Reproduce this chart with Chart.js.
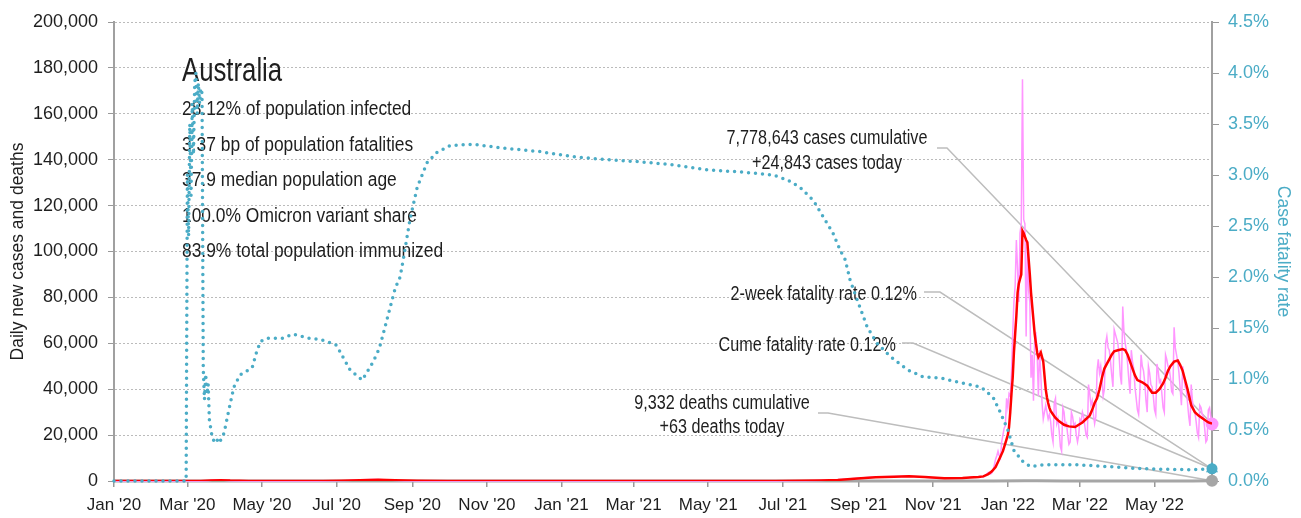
<!DOCTYPE html>
<html>
<head>
<meta charset="utf-8">
<script src="https://cdn.jsdelivr.net/npm/chart.js@4/dist/chart.umd.min.js"></script>
<style>
  html, body { margin: 0; padding: 0; background: #fff; }
  #wrap { width: 1301px; height: 518px; }
</style>
</head>
<body>
<div id="wrap"><canvas id="chart" width="1301" height="518"></canvas></div>
<script>
// ---- data ----
const country = 'Australia';
const statLines = [
  '28.12% of population infected',
  '3.37 bp of population fatalities',
  '37.9 median population age',
  '100.0% Omicron variant share',
  '83.9% total population immunized'
];
const casesCumulative = 7778643;
const deathsCumulative = 9332;
const cfrTwoWeek = 0.12;

const tickMonths = ['2020-01-01', '2020-03-01', '2020-05-01', '2020-07-01', '2020-09-01', '2020-11-01',
  '2021-01-01', '2021-03-01', '2021-05-01', '2021-07-01', '2021-09-01', '2021-11-01',
  '2022-01-01', '2022-03-01', '2022-05-01'];
const lastDate = '2022-06-17';

// daily new cases, before the Omicron wave
const casesEarlyDates = ['2020-01-01', '2020-02-29', '2020-03-10', '2020-03-18', '2020-03-23', '2020-03-28',
  '2020-04-05', '2020-04-15', '2020-05-15', '2020-06-15', '2020-06-30', '2020-07-10', '2020-07-22',
  '2020-07-30', '2020-08-05', '2020-08-15', '2020-08-25', '2020-09-10', '2020-09-30', '2020-10-31',
  '2021-01-01', '2021-02-01', '2021-05-01', '2021-06-25', '2021-07-10', '2021-07-20', '2021-08-01',
  '2021-08-10', '2021-08-20', '2021-08-31', '2021-09-10', '2021-09-20', '2021-09-30', '2021-10-10',
  '2021-10-20', '2021-10-31', '2021-11-10', '2021-11-20', '2021-11-30'];
const casesEarly = [0, 3, 20, 150, 400, 460, 100, 30, 15, 20, 70, 200, 500, 700, 690, 350, 150, 50, 15, 10,
  30, 10, 15, 25, 60, 140, 250, 400, 800, 1200, 1600, 1800, 2000, 2100, 1800, 1400, 1200, 1250, 1400];

// daily new cases, one value per day from this date on
const casesDailyFrom = '2021-12-01';
const casesDaily = [
  1650, 1700, 1800, 1750, 1600, 1500, 1800, 1900, 2000, 1950,
  1900, 1800, 2100, 2700, 3100, 3800, 3600, 3100, 3600, 4700,
  7000, 9500, 11000, 13000, 11000, 10000, 17000, 20000, 23000, 24000, 36000,
  32000, 38000, 37000, 47000, 64000, 78000, 85000, 105000, 92000, 78000,
  108000, 112000, 175000, 114000, 112000, 63000, 102000, 83000, 78000, 45000,
  55000, 35000, 63000, 64000, 55000, 37000, 57000, 46000, 34000, 27000, 30000,
  33000, 30000, 27000, 29000, 26000, 20000, 17000, 34000, 36000, 25000, 27000, 22000, 15000, 13000,
  32000, 30000, 24000, 25000, 20000, 16000, 17000, 30000, 28000, 24000, 25000, 20000, 17000, 20000,
  27000, 26000, 30000, 28000, 24000, 20000, 19000, 42000, 38000, 33000, 35000, 29000, 25000, 28000,
  48000, 53000, 47000, 50000, 44000, 37000, 40000, 60000, 63000, 58000, 57000, 52000, 46000, 41000,
  66000, 64000, 62000,
  60000, 55000, 46000, 42000, 76000, 65000, 60000, 57000, 51000, 44000,
  38000, 57000, 52000, 49000, 41000, 36000, 31000, 29000, 39000, 55000,
  50000, 48000, 43000, 35000, 30000, 50000, 47000, 42000, 41000, 37000,
  31000, 29000, 51000, 48000, 43000, 44000, 38000, 32000, 30000, 55000,
  53000, 50000, 49000, 45000, 39000, 38000, 67000, 58000, 55000, 52000,
  47000, 40000, 33000, 50000, 46000, 41000, 40000, 34000, 28000, 24000, 42000,
  35000, 31000, 30000, 26000, 21000, 19000, 33000, 32000, 29000, 28000,
  23000, 17000, 18000, 31000, 32000, 28000, 24843
];

// 7-day average of new cases
const avgDates = ['2020-01-01', '2020-02-29', '2020-03-12', '2020-03-20', '2020-03-28', '2020-04-05',
  '2020-04-20', '2020-05-20', '2020-06-20', '2020-07-05', '2020-07-20', '2020-08-04', '2020-08-18',
  '2020-09-05', '2020-09-30', '2020-12-31', '2021-06-25', '2021-07-15', '2021-08-01', '2021-08-15',
  '2021-08-31', '2021-09-15', '2021-09-30', '2021-10-12', '2021-10-25', '2021-11-10', '2021-11-25',
  '2021-12-01', '2021-12-08', '2021-12-12', '2021-12-16', '2021-12-19', '2021-12-22', '2021-12-25',
  '2021-12-28', '2021-12-29', '2022-01-01', '2022-01-02', '2022-01-03', '2022-01-04', '2022-01-05',
  '2022-01-06', '2022-01-07', '2022-01-08', '2022-01-09', '2022-01-10', '2022-01-11', '2022-01-12',
  '2022-01-13', '2022-01-14', '2022-01-15', '2022-01-16', '2022-01-17', '2022-01-18', '2022-01-19',
  '2022-01-20', '2022-01-21', '2022-01-22', '2022-01-23', '2022-01-24', '2022-01-25', '2022-01-26',
  '2022-01-27', '2022-01-28', '2022-01-29', '2022-01-30', '2022-01-31', '2022-02-01', '2022-02-02',
  '2022-02-03', '2022-02-04', '2022-02-05', '2022-02-07', '2022-02-09', '2022-02-12', '2022-02-16',
  '2022-02-20', '2022-02-25', '2022-02-28', '2022-03-03', '2022-03-06', '2022-03-09', '2022-03-11',
  '2022-03-13', '2022-03-15', '2022-03-17', '2022-03-19', '2022-03-21', '2022-03-23', '2022-03-25',
  '2022-03-27', '2022-03-29', '2022-04-01', '2022-04-05', '2022-04-07', '2022-04-09', '2022-04-11',
  '2022-04-13', '2022-04-15', '2022-04-17', '2022-04-21', '2022-04-25', '2022-04-29', '2022-05-02',
  '2022-05-05', '2022-05-08', '2022-05-10', '2022-05-12', '2022-05-14', '2022-05-17', '2022-05-20',
  '2022-05-22', '2022-05-24', '2022-05-26', '2022-05-28', '2022-05-31', '2022-06-03', '2022-06-06',
  '2022-06-10', '2022-06-14', '2022-06-17'];
const avgValues = [0, 2, 30, 250, 380, 200, 40, 15, 18, 120, 380, 520, 300, 90, 15, 15, 20, 90, 220, 450,
  1100, 1600, 1900, 2100, 1700, 1250, 1300,
  1500, 1700, 2000, 3000, 4200, 6100, 9500, 13000, 14800, 20000, 23500, 30000, 38000, 45000,
  56000, 64000, 72000, 82000, 86000, 88000, 90000, 109000, 108000, 106500, 105000, 104000, 97000, 90000,
  82000, 76000, 70000, 64000, 60000, 56000, 54000, 55000, 56000, 54000, 52000, 46000, 40000, 36500,
  34000, 32000, 30500, 29000, 27500, 26000, 24500, 23800, 23500, 24500, 25500, 27000, 28500, 31000,
  34000, 36000, 40000, 45000, 49000, 51000, 53000, 55000, 56500, 57000, 57500, 57000, 55000, 52000,
  49000, 46000, 44000, 43000, 41500, 38500, 38500, 40000, 42500, 45000, 48000, 50000, 52000, 52500,
  50500, 48000, 44000, 40000, 33000, 30000, 28500, 27000, 25500, 25000];

// daily deaths
const deathDates = ['2020-01-01', '2020-03-28', '2020-04-10', '2020-06-01', '2020-07-25', '2020-08-10',
  '2020-08-25', '2020-09-20', '2020-10-20', '2021-08-01', '2021-09-01', '2021-10-10', '2021-11-15',
  '2021-12-20', '2022-01-15', '2022-01-25', '2022-02-15', '2022-03-15', '2022-04-15', '2022-05-15',
  '2022-06-01', '2022-06-17'];
const deathValues = [0, 2, 4, 0, 10, 18, 14, 4, 1, 1, 9, 12, 6, 3, 60, 80, 45, 20, 25, 40, 50, 63];

// cumulative case fatality rate, percent
const cfrDates = ['2020-01-01', '2020-02-29', '2020-03-01', '2020-03-02', '2020-03-03', '2020-03-04',
  '2020-03-05', '2020-03-06', '2020-03-07', '2020-03-08', '2020-03-09', '2020-03-10', '2020-03-11',
  '2020-03-12', '2020-03-13', '2020-03-14', '2020-03-15', '2020-03-16', '2020-03-17', '2020-03-18',
  '2020-03-19', '2020-03-21', '2020-03-23', '2020-03-25', '2020-03-27', '2020-03-31', '2020-04-04',
  '2020-04-08', '2020-04-13', '2020-04-23', '2020-04-27', '2020-04-30', '2020-05-05', '2020-05-18',
  '2020-05-26', '2020-06-08', '2020-06-17', '2020-06-25', '2020-07-01', '2020-07-06', '2020-07-12',
  '2020-07-18', '2020-07-22', '2020-07-26', '2020-07-31', '2020-08-05', '2020-08-09', '2020-08-14',
  '2020-08-18', '2020-08-22', '2020-08-25', '2020-08-30', '2020-09-05', '2020-09-13', '2020-09-21',
  '2020-10-02', '2020-10-21', '2020-11-17', '2020-12-14', '2021-01-10', '2021-02-07', '2021-03-06',
  '2021-04-02', '2021-04-30', '2021-05-27', '2021-06-23', '2021-07-05', '2021-07-15', '2021-07-26',
  '2021-08-03', '2021-08-11', '2021-08-17', '2021-08-21', '2021-08-25', '2021-08-31', '2021-09-08',
  '2021-09-16', '2021-09-27', '2021-10-11', '2021-10-24', '2021-11-07', '2021-11-21', '2021-12-10',
  '2021-12-20', '2021-12-26', '2022-01-01', '2022-01-06', '2022-01-14', '2022-01-20', '2022-01-30',
  '2022-02-26', '2022-03-25', '2022-04-21', '2022-06-01', '2022-06-17'];
const cfrValues = [0, 0, 3.0, 2.4, 3.5, 2.8, 3.7, 3.2, 3.9, 4.0, 3.6, 3.9, 3.7, 3.85, 3.8, 1.1, 0.8, 1.05,
  0.85, 0.95, 0.6, 0.45, 0.38, 0.41, 0.37, 0.47, 0.70, 0.92, 1.04, 1.11, 1.28, 1.37, 1.40, 1.40, 1.44,
  1.40, 1.39, 1.36, 1.33, 1.22, 1.09, 1.03, 0.99, 1.07, 1.17, 1.30, 1.48, 1.71, 1.89, 2.00, 2.2, 2.56,
  2.88, 3.12, 3.22, 3.29, 3.30, 3.26, 3.23, 3.18, 3.15, 3.13, 3.10, 3.05, 3.03, 3.00, 2.95, 2.88, 2.75,
  2.59, 2.43, 2.26, 2.17, 1.97, 1.77, 1.51, 1.35, 1.22, 1.09, 1.02, 1.01, 0.97, 0.92, 0.82, 0.67, 0.50,
  0.30, 0.18, 0.14, 0.16, 0.16, 0.14, 0.12, 0.11, 0.12];

// ---- helpers ----
const DAY0 = Date.UTC(2020, 0, 1);
function dayIndex(s) {
  const [y, m, d] = s.split('-').map(Number);
  return (Date.UTC(y, m - 1, d) - DAY0) / 86400000;
}
const MONTHS = ['Jan', 'Feb', 'Mar', 'Apr', 'May', 'Jun', 'Jul', 'Aug', 'Sep', 'Oct', 'Nov', 'Dec'];
const tickLabels = {};
tickMonths.forEach(s => {
  tickLabels[dayIndex(s)] = MONTHS[Number(s.slice(5, 7)) - 1] + " '" + s.slice(2, 4);
});
const pairs = (dates, values) => dates.map((d, i) => ({ x: dayIndex(d), y: values[i] }));
const fmt = v => v.toLocaleString('en-US');

const lastDay = dayIndex(lastDate);
const startDaily = dayIndex(casesDailyFrom);
const casesPoints = pairs(casesEarlyDates, casesEarly)
  .concat(casesDaily.map((v, i) => ({ x: startDaily + i, y: v })));
const casesToday = casesDaily[casesDaily.length - 1];
const deathsToday = deathValues[deathValues.length - 1];
const cfrCume = cfrValues[cfrValues.length - 1];

const SANS = "'Liberation Sans', Arial, sans-serif";
const TEAL = '#4bacc6';
const PINK = '#ff96ff';
const GREY = '#a6a6a6';
const LEADER = '#bdbdbd';
const INK = '#1e1e1e';

const lastOnly = (r) => (c) => (c.dataIndex === c.dataset.data.length - 1 ? r : 0);

// squeezed text, to get a condensed face out of the plain sans
function squeezed(ctx, text, x, y, size, sx, align) {
  ctx.save();
  ctx.translate(x, y);
  ctx.scale(sx, 1);
  ctx.font = size + 'px ' + SANS;
  ctx.textAlign = align;
  ctx.fillText(text, 0, 0);
  ctx.restore();
}

// text and leader lines on the right, stats block on the left
const notesPlugin = {
  id: 'notes',
  beforeDatasetsDraw(chart) {
    const { ctx, scales } = chart;
    const xEnd = scales.x.getPixelForValue(lastDay);
    const casePt = [xEnd, scales.y.getPixelForValue(casesToday)];
    const cfrPt = [xEnd, scales.y1.getPixelForValue(cfrCume)];
    const deathPt = [xEnd, scales.y.getPixelForValue(deathsToday)];

    ctx.save();
    ctx.strokeStyle = LEADER;
    ctx.lineWidth = 1.5;
    const leader = (x0, y0, x1, pt) => {
      ctx.beginPath();
      ctx.moveTo(x0, y0);
      ctx.lineTo(x1, y0);
      ctx.lineTo(pt[0], pt[1]);
      ctx.stroke();
    };
    leader(937, 148, 947, casePt);
    leader(924, 292, 940, cfrPt);
    leader(902, 343, 913, cfrPt);
    leader(818, 413, 828, deathPt);

    ctx.fillStyle = INK;
    squeezed(ctx, country, 182, 81, 33, 0.78, 'left');
    statLines.forEach((t, i) => squeezed(ctx, t, 182, 115 + i * 35.5, 20, 0.87, 'left'));

    squeezed(ctx, fmt(casesCumulative) + ' cases cumulative', 827, 144, 20, 0.81, 'center');
    squeezed(ctx, '+' + fmt(casesToday) + ' cases today', 827, 169, 20, 0.81, 'center');
    squeezed(ctx, fmt(deathsCumulative) + ' deaths cumulative', 722, 409, 20, 0.81, 'center');
    squeezed(ctx, '+' + fmt(deathsToday) + ' deaths today', 722, 433, 20, 0.81, 'center');
    squeezed(ctx, '2-week fatality rate ' + cfrTwoWeek.toFixed(2) + '%', 917, 300, 20, 0.81, 'right');
    squeezed(ctx, 'Cume fatality rate ' + cfrCume.toFixed(2) + '%', 896, 351, 20, 0.81, 'right');
    ctx.restore();
  }
};

new Chart(document.getElementById('chart'), {
  type: 'line',
  data: {
    datasets: [
      {
        label: 'Case fatality rate',
        data: pairs(cfrDates, cfrValues),
        yAxisID: 'y1',
        order: 0,
        clip: false,
        borderColor: TEAL,
        borderWidth: 3.5,
        borderDash: [0, 7],
        borderCapStyle: 'round',
        pointRadius: lastOnly(5.5),
        pointBackgroundColor: TEAL,
        pointBorderWidth: 0
      },
      {
        label: '2-week fatality rate',
        data: [{ x: lastDay, y: cfrTwoWeek }],
        yAxisID: 'y1',
        order: 0,
        clip: false,
        showLine: false,
        pointStyle: 'triangle',
        pointRadius: 7,
        pointBackgroundColor: TEAL,
        pointBorderWidth: 0
      },
      {
        label: '7-day average',
        data: pairs(avgDates, avgValues),
        yAxisID: 'y',
        order: 1,
        borderColor: '#ff0000',
        borderWidth: 2.5,
        pointRadius: 0
      },
      {
        label: 'New cases',
        data: casesPoints,
        yAxisID: 'y',
        order: 2,
        clip: false,
        borderColor: PINK,
        borderWidth: 1.5,
        pointRadius: lastOnly(6.5),
        pointBackgroundColor: PINK,
        pointBorderWidth: 0
      },
      {
        label: 'New deaths',
        data: pairs(deathDates, deathValues),
        yAxisID: 'y',
        order: 3,
        clip: false,
        borderColor: GREY,
        borderWidth: 3,
        pointRadius: lastOnly(6),
        pointBackgroundColor: GREY,
        pointBorderWidth: 0
      }
    ]
  },
  options: {
    responsive: false,
    animation: false,
    events: [],
    layout: { padding: { top: 22, right: 0, bottom: 0, left: 0 } },
    elements: { line: { tension: 0, fill: false } },
    plugins: { legend: { display: false }, tooltip: { enabled: false } },
    scales: {
      x: {
        type: 'linear',
        min: 0,
        max: lastDay,
        afterBuildTicks: s => { s.ticks = tickMonths.map(d => ({ value: dayIndex(d) })); },
        afterFit: s => { s.height = 37; },
        grid: { drawOnChartArea: false, tickLength: 6, color: '#999', lineWidth: 1.5 },
        border: { color: '#a0a0a0', width: 2 },
        ticks: {
          autoSkip: false,
          maxRotation: 0,
          padding: 8,
          color: INK,
          font: { family: SANS, size: 17 },
          callback: v => tickLabels[v] || ''
        }
      },
      y: {
        position: 'left',
        min: 0,
        max: 200000,
        afterFit: s => { s.width = 114; },
        grid: { color: '#bbbbbb', lineWidth: 1, tickColor: '#999', tickLength: 6 },
        border: { color: '#a0a0a0', width: 2, dash: [2, 2] },
        ticks: {
          stepSize: 20000,
          padding: 10,
          color: INK,
          font: { family: SANS, size: 18 },
          callback: v => fmt(v)
        },
        title: {
          display: true,
          text: 'Daily new cases and deaths',
          color: INK,
          font: { family: SANS, size: 17.5 },
          padding: { top: 8, bottom: 0 }
        }
      },
      y1: {
        position: 'right',
        min: 0,
        max: 4.5,
        afterFit: s => { s.width = 89; },
        grid: { drawOnChartArea: false, color: '#999', tickLength: 7 },
        border: { color: '#a0a0a0', width: 2 },
        ticks: {
          stepSize: 0.5,
          padding: 9,
          color: TEAL,
          font: { family: SANS, size: 18 },
          callback: v => v.toFixed(1) + '%'
        },
        title: {
          display: true,
          text: 'Case fatality rate',
          color: TEAL,
          font: { family: SANS, size: 17.5 },
          padding: { top: 8, bottom: 0 }
        }
      }
    }
  },
  plugins: [notesPlugin]
});
</script>
</body>
</html>
